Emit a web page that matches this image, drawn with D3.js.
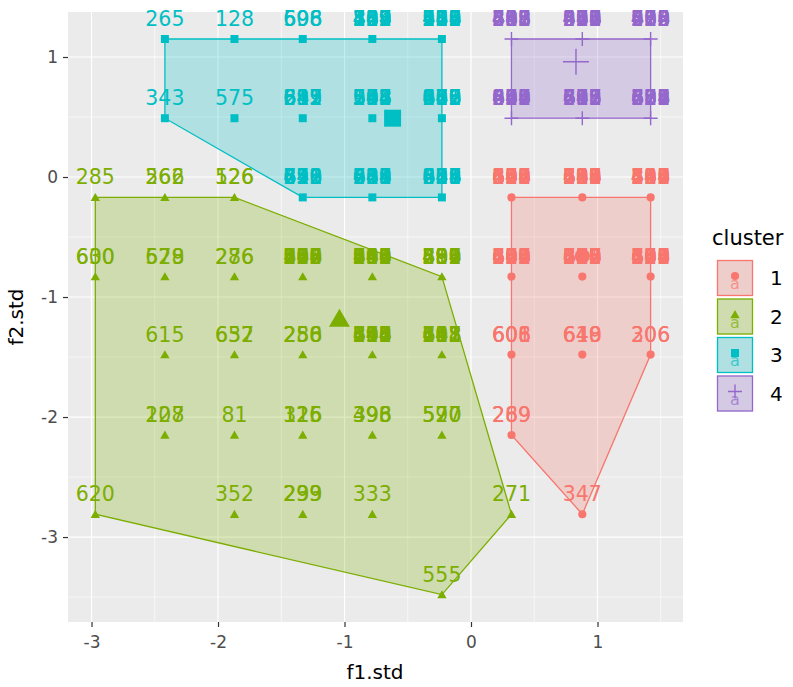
<!DOCTYPE html>
<html>
<head>
<meta charset="utf-8">
<script src="https://cdn.jsdelivr.net/npm/d3@7"></script>
<style>
body { margin: 0; background: #fff; }
text { font-family: "DejaVu Sans", sans-serif; }
</style>
</head>
<body>
<svg id="chart" width="793" height="687"></svg>
<script>
// cluster colours
var colors = ["#F8766D", "#7CAE00", "#00BFC4", "#9467CC"];
var clusterNames = ["1", "2", "3", "4"];

// points: [f1.std, f2.std, "ids sharing the position"]
var cluster1 = [
	[0.32, -0.17, "601 612 633 644 655 688 409 527 370 198 846 253"], [0.88, -0.17, "611 613 618 640 681 457 329 702 186 594 238 865"], [1.42, -0.17, "410 445 448 463 512 638 709 281 394 856 127"],
	[0.32, -0.83, "604 609 623 650 661 487 302 715 138 596 249 873"], [0.88, -0.83, "617 622 643 649 677 508 319 284 196 735 460 852"], [1.42, -0.83, "608 629 653 686 417 531 392 270 158 704 843"],
	[0.32, -1.48, "606 608 601"], [0.88, -1.48, "649 618 640"], [1.42, -1.48, "206 306"],
	[0.32, -2.15, "289 269"],
	[0.88, -2.81, "347"]
];
var cluster2 = [
	[-2.97, -0.17, "285"], [-2.42, -0.17, "262 566"], [-1.87, -0.17, "526 126"],
	[-2.97, -0.83, "600 630"], [-2.42, -0.83, "579 628"], [-1.87, -0.83, "276 286"],
	[-1.33, -0.83, "300 388 598 466 509 830 147 275 612 953 724"], [-0.78, -0.83, "590 594 509 666 441 388 217 730 865 142 953"], [-0.23, -0.83, "490 493 589 399 216 754 302 681 837"],
	[-2.42, -1.48, "615"], [-1.87, -1.48, "652 637"], [-1.33, -1.48, "250 288 256"],
	[-0.78, -1.48, "694 590 604 546 448 213 871 352 197 738"], [-0.23, -1.48, "611 618 643 681 203 457 792 365 148"],
	[-2.42, -2.15, "127 208"], [-1.87, -2.15, "81"], [-1.33, -2.15, "326 125 116"],
	[-0.78, -2.15, "496 398 393"], [-0.23, -2.15, "597 520 570"],
	[-2.97, -2.81, "620"], [-1.87, -2.81, "352"], [-1.33, -2.81, "299 293 239"], [-0.78, -2.81, "333"], [0.32, -2.81, "271"],
	[-0.23, -3.48, "555"]
];
var cluster3 = [
	[-2.42, 1.15, "265"], [-1.87, 1.15, "128"], [-1.33, 1.15, "698 596 608"],
	[-0.78, 1.15, "412 463 238 189 427 381 509 752 864 307 149"], [-0.23, 1.15, "401 455 218 367 512 143 689 730 926 584 275"],
	[-2.42, 0.49, "343"], [-1.87, 0.49, "575"], [-1.33, 0.49, "611 612 617 637 245 889 593"],
	[-0.78, 0.49, "543 548 508 594 358 271 602 916 137 785"], [-0.23, 0.49, "641 672 612 660 688 239 405 917 853 176"],
	[-1.33, -0.17, "611 612 633 641 428 259 870 796"], [-0.78, -0.17, "611 618 640 681 688 253 427 905 319 764"], [-0.23, -0.17, "614 617 638 648 689 203 457 921 375 836"]
];
var cluster4 = [
	[0.32, 1.15, "431 453 488 466 488 533 219 705 642 897 318"], [0.88, 1.15, "438 458 471 486 495 544 213 670 829 907 362"], [1.42, 1.15, "412 425 463 475 533 286 790 619 958 304"],
	[0.32, 0.49, "604 633 645 688 693 217 459 821 352 970"], [0.88, 0.49, "611 618 677 696 717 232 405 589 843"], [1.42, 0.49, "626 638 682 688 703 215 459 871 394 527"]
];
var clusters = [cluster1, cluster2, cluster3, cluster4];

// hull vertices (index into each cluster's point list)
var hull1 = [0, 2, 8, 10, 9];
var hull2 = [0, 2, 8, 23, 24, 19];
var hull3 = [0, 4, 9, 12, 10, 5];
var hull4 = [0, 2, 5, 3];
var hulls = [hull1, hull2, hull3, hull4];

// cluster centres
var centers = [[0.88, -0.66], [-1.04, -1.19], [-0.62, 0.49], [0.83, 0.96]];

var xTicks = [-3, -2, -1, 0, 1];
var yTicks = [-3, -2, -1, 0, 1];
var xMinor = [-2.5, -1.5, -0.5, 0.5, 1.5];
var yMinor = [-3.5, -2.5, -1.5, -0.5, 0.5];

var svg = d3.select("#chart");
var x = d3.scaleLinear().domain([-3.186, 1.676]).range([68, 683]);
var y = d3.scaleLinear().domain([-3.708, 1.375]).range([622, 12]);

// panel background and grid
svg.append("rect").attr("x", 68).attr("y", 12).attr("width", 615).attr("height", 610).attr("fill", "#EBEBEB");
var grid = svg.append("g");
grid.selectAll("line.xmin").data(xMinor).enter().append("line")
	.attr("x1", x).attr("x2", x).attr("y1", 12).attr("y2", 622)
	.attr("stroke", "#fff").attr("stroke-width", 0.6);
grid.selectAll("line.ymin").data(yMinor).enter().append("line")
	.attr("y1", y).attr("y2", y).attr("x1", 68).attr("x2", 683)
	.attr("stroke", "#fff").attr("stroke-width", 0.6);
grid.selectAll("line.xmaj").data(xTicks).enter().append("line")
	.attr("x1", x).attr("x2", x).attr("y1", 12).attr("y2", 622)
	.attr("stroke", "#fff").attr("stroke-width", 1.2);
grid.selectAll("line.ymaj").data(yTicks).enter().append("line")
	.attr("y1", y).attr("y2", y).attr("x1", 68).attr("x2", 683)
	.attr("stroke", "#fff").attr("stroke-width", 1.2);

// hulls
hulls.forEach(function(h, ci){
	var pts = h.map(function(i){ var p = clusters[ci][i]; return [x(p[0]), y(p[1])]; });
	svg.append("polygon")
		.attr("points", pts.map(function(p){ return p.join(","); }).join(" "))
		.attr("fill", colors[ci]).attr("fill-opacity", 0.25)
		.attr("stroke", colors[ci]).attr("stroke-width", 1.3);
});

//draw a marker of the cluster's shape
function marker(g, ci, cx, cy, big){
	var col = colors[ci];
	if(ci == 3){
		var r = big ? 13 : 7;
		g.append("path")
			.attr("d", "M" + (cx - r) + "," + cy + "H" + (cx + r) + "M" + cx + "," + (cy - r) + "V" + (cy + r))
			.attr("stroke", col).attr("stroke-width", 1.4).attr("fill", "none");
		return;
	}
	var types = [d3.symbolCircle, d3.symbolTriangle, d3.symbolSquare];
	var sizes = big ? [180, 190, 289] : [52, 38, 64];
	g.append("path")
		.attr("d", d3.symbol().type(types[ci]).size(sizes[ci])())
		.attr("transform", "translate(" + cx + "," + (cy + (ci == 1 ? 1 : 0)) + ")")
		.attr("fill", col);
}

var pointsG = svg.append("g");
clusters.forEach(function(c, ci){
	c.forEach(function(p){ marker(pointsG, ci, x(p[0]), y(p[1]), false); });
});
centers.forEach(function(p, ci){ marker(pointsG, ci, x(p[0]), y(p[1]), true); });

// labels, overlapping ids drawn on the same spot
var labelsG = svg.append("g");
clusters.forEach(function(c, ci){
	c.forEach(function(p){
		p[2].split(" ").forEach(function(id){
			labelsG.append("text")
				.attr("x", x(p[0]))
				.attr("y", y(p[1]) - 13)
				.attr("text-anchor", "middle")
				.attr("font-size", "20.5px")
				.attr("fill", colors[ci])
				.text(id);
		});
	});
});

// axes
var fmt = function(d){ return String(d); };
var xAxis = svg.append("g").attr("transform", "translate(0,622)")
	.call(d3.axisBottom(x).tickValues(xTicks).tickSize(5).tickPadding(5).tickFormat(fmt));
var yAxis = svg.append("g").attr("transform", "translate(68,0)")
	.call(d3.axisLeft(y).tickValues(yTicks).tickSize(5).tickPadding(5).tickFormat(fmt));
[xAxis, yAxis].forEach(function(a){
	a.select(".domain").remove();
	a.selectAll(".tick line").attr("stroke", "#333").attr("stroke-width", 1.2);
	a.selectAll(".tick text").attr("fill", "#4D4D4D").attr("font-size", "17px")
		.attr("font-family", "DejaVu Sans");
});
xAxis.selectAll(".tick text").attr("dy", "0.95em");
yAxis.selectAll(".tick text").attr("dy", "0.35em");

svg.append("text").attr("x", 375).attr("y", 679).attr("text-anchor", "middle")
	.attr("font-size", "20px").attr("fill", "#000").text("f1.std");
svg.append("text").attr("transform", "translate(23,317) rotate(-90)").attr("text-anchor", "middle")
	.attr("font-size", "20px").attr("fill", "#000").text("f2.std");

// legend
var legend = svg.append("g");
legend.append("text").attr("x", 712).attr("y", 245).attr("font-size", "21px").attr("fill", "#000").text("cluster");
clusterNames.forEach(function(name, ci){
	var ky = 260 + ci * 38.5;
	var k = legend.append("g");
	k.append("rect").attr("x", 717).attr("y", ky).attr("width", 36).attr("height", 36)
		.attr("fill", "#EBEBEB");
	k.append("rect").attr("x", 717.5).attr("y", ky + 0.5).attr("width", 35).attr("height", 35)
		.attr("fill", colors[ci]).attr("fill-opacity", 0.25)
		.attr("stroke", colors[ci]).attr("stroke-width", 1.3);
	k.append("text").attr("x", 735).attr("y", ky + 29).attr("text-anchor", "middle")
		.attr("font-size", "16px").attr("fill", colors[ci]).attr("fill-opacity", 0.7).text("a");
	marker(k, ci, 735, ky + 16, false);
	k.append("text").attr("x", 770).attr("y", ky + 25).attr("font-size", "20px").attr("fill", "#000").text(name);
});
</script>
</body>
</html>
